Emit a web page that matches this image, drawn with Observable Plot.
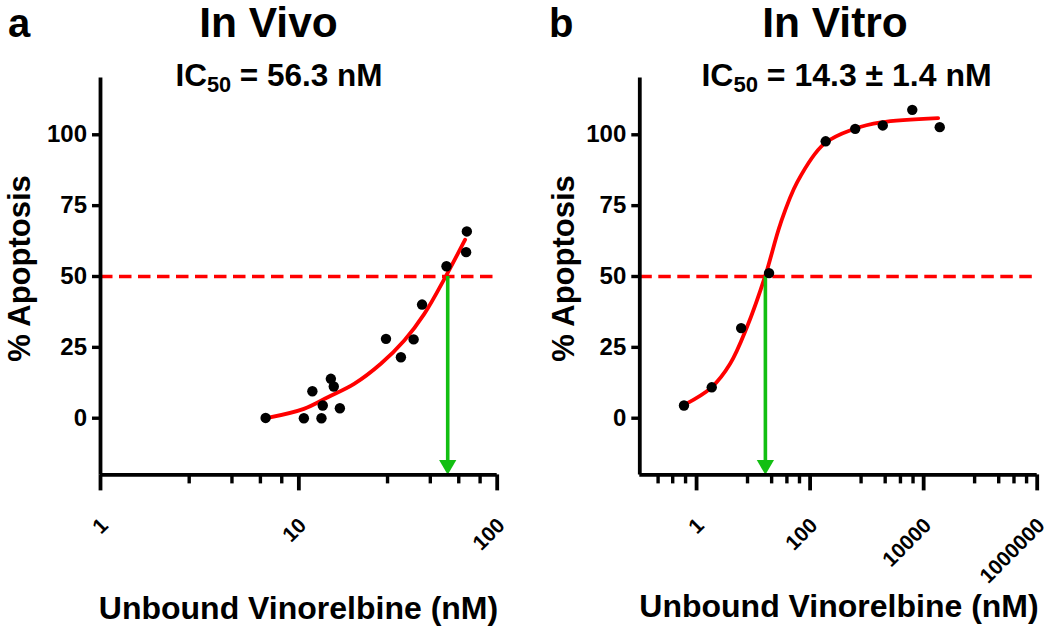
<!DOCTYPE html>
<html>
<head>
<meta charset="utf-8">
<script src="https://cdn.jsdelivr.net/npm/d3@7"></script>
<script src="https://cdn.jsdelivr.net/npm/@observablehq/plot@0.6"></script>
<style>
  html, body { margin: 0; padding: 0; background: #fff; }
  #fig { position: relative; width: 1050px; height: 631px; overflow: hidden; }
  .panel { position: absolute; top: 0; width: 525px; height: 631px; }
  .panel svg { max-width: none !important; width: 525px !important; height: 631px !important; }
  #overlay { position: absolute; left: 0; top: 0; pointer-events: none; }
</style>
</head>
<body>
<div id="fig">
  <div class="panel" id="pa" style="left:0px"></div>
  <div class="panel" id="pb" style="left:525px"></div>
</div>
<script>
// ---------- data ----------
// Panel a: In Vivo
const aDotsX = [6.8, 10.6, 11.7, 13.0, 13.2, 14.5, 15.0, 16.1, 27.5, 32.7, 37.9, 41.8, 55.5, 69.7, 70.3];
const aDotsY = [0.1, 0, 9.5, 0, 4.5, 13.9, 11.2, 3.5, 28.0, 21.5, 27.8, 40.1, 53.6, 58.6, 65.9];
const aCurveX = [6.95, 10.6, 14.0, 19.0, 25.9, 34.0, 42.9, 54.8, 68.9];
const aCurveY = [0.1, 3.3, 7.4, 12.1, 19.2, 27.4, 36.8, 49.8, 63.0];
const aIC50 = 56.3;
const aMajorTicks = [1, 10, 100];
const aMinorTicks = [2.8, 4.6, 6.4, 8.2, 28, 46, 64, 82];

// Panel b: In Vitro
const bDotsX = [0.6, 1.85, 6.1, 18.9, 188, 623, 1905, 6300, 19200];
const bDotsY = [4.5, 10.9, 31.8, 51.2, 97.7, 102.1, 103.3, 108.8, 102.7];
const bCurveX = [0.62, 1.84, 3.9, 7.7, 16.3, 30, 59.3, 176, 598, 1778, 18000];
const bCurveY = [4.8, 10.9, 19.2, 32.1, 50.4, 68.6, 83.3, 96.8, 102.1, 104.4, 105.9];
const bArrowX = 16.3;
const bMajorTicks = [1, 100, 10000, 1000000];
const bMinorTicks = [0.21, 0.38, 0.64, 7.9, 21, 39, 65, 790, 2100, 3900, 6500, 79000, 210000, 390000, 650000];

const yTicks = [0, 25, 50, 75, 100];
const yDomain = [-20, 120];
const threshold = 50;

// ---------- styling ----------
const FONT = "'Liberation Sans', Arial, Helvetica, sans-serif";
const RED = "#ff0000";
const GREEN = "#12bf12";
const AXW = 3.8;
const YTICKFONT = 24;
const XTICKFONT = 21;

function panel(o) {
  const dots = o.dotsX.map((x, i) => ({x, y: o.dotsY[i]}));
  const curve = o.curveX.map((x, i) => ({x, y: o.curveY[i]}));
  const x0 = o.xDomain[0], y0 = yDomain[0];
  return Plot.plot({
    width: 525,
    height: 631,
    marginLeft: o.marginLeft,
    marginRight: o.marginRight,
    marginTop: 77.6,
    marginBottom: 156.6,
    axis: null,
    style: {fontFamily: FONT, fontWeight: "bold", color: "#000", background: "transparent", overflow: "visible"},
    x: {type: "log", domain: o.xDomain},
    y: {domain: yDomain},
    marks: [
      Plot.ruleY([threshold], {stroke: RED, strokeWidth: 3.4, strokeDasharray: "12.5,6.5"}),
      Plot.line(curve, {x: "x", y: "y", stroke: RED, strokeWidth: 3.8, curve: "catmull-rom"}),
      Plot.ruleX([o.arrowX], {y1: threshold, y2: y0, stroke: GREEN, strokeWidth: 3.6, insetBottom: 12}),
      Plot.dot([o.arrowX], {x: d => d, y: () => y0, symbol: "triangle", rotate: 180, r: 6.4, fill: GREEN, stroke: null, dy: -10}),
      Plot.dot(dots, {x: "x", y: "y", r: 5.2, fill: "#000", stroke: null}),
      // y axis: ticks and labels
      Plot.ruleY(yTicks, {y: d => d, x1: x0, x2: x0, insetLeft: -8, stroke: "#000", strokeWidth: 3.4}),
      Plot.text(yTicks, {y: d => d, x: x0, text: d => String(d), textAnchor: "end", lineAnchor: "middle", dx: -13.5, fontSize: YTICKFONT, fontFamily: FONT, fontWeight: "bold", fill: "#000"}),
      // x axis: minor ticks, major ticks, rotated labels
      Plot.ruleX(o.minor, {x: d => d, y1: y0, y2: y0, insetTop: 9, stroke: "#000", strokeWidth: 3.4}),
      Plot.ruleX(o.major, {x: d => d, y1: y0, y2: y0, insetTop: 16, stroke: "#000", strokeWidth: 3.8}),
      Plot.text(o.major, {x: d => d, y: () => y0, text: d => String(d), rotate: -45, textAnchor: "end", lineAnchor: "middle", dx: 4, dy: 47, fontSize: XTICKFONT, fontFamily: FONT, fontWeight: "bold", fill: "#000"}),
      // axis lines
      Plot.ruleX([x0], {stroke: "#000", strokeWidth: AXW}),
      Plot.ruleY([y0], {stroke: "#000", strokeWidth: AXW})
    ]
  });
}

document.getElementById("pa").append(panel({
  dotsX: aDotsX, dotsY: aDotsY, curveX: aCurveX, curveY: aCurveY, arrowX: aIC50,
  xDomain: [1, 100], major: aMajorTicks, minor: aMinorTicks,
  marginLeft: 100, marginRight: 28.3
}));
document.getElementById("pb").append(panel({
  dotsX: bDotsX, dotsY: bDotsY, curveX: bCurveX, curveY: bCurveY, arrowX: bArrowX,
  xDomain: [0.1, 1000000], major: bMajorTicks, minor: bMinorTicks,
  marginLeft: 114.3, marginRight: 13.3
}));

// ---------- titles and axis labels ----------
const svg = d3.select("#fig").append("svg")
  .attr("id", "overlay").attr("width", 1050).attr("height", 631)
  .style("font-family", FONT).style("font-weight", "bold");

function label(x, y, text, size, anchor) {
  return svg.append("text").attr("x", x).attr("y", y).attr("font-size", size)
    .attr("text-anchor", anchor || "middle").attr("fill", "#000").text(text);
}
function ic50(x, y, size, rest) {
  const t = svg.append("text").attr("x", x).attr("y", y).attr("font-size", size)
    .attr("text-anchor", "middle").attr("fill", "#000");
  t.append("tspan").text("IC");
  t.append("tspan").attr("font-size", size * 0.69).attr("dy", 6).text("50");
  t.append("tspan").attr("dy", -6).text(rest);
}

label(8, 37, "a", 40, "start");
label(268.5, 37, "In Vivo", 42.5);
ic50(279, 86, 31.5, " = 56.3 nM");
label(549, 37, "b", 40, "start");
label(835, 37, "In Vitro", 42.5);
ic50(846.5, 86, 32, " = 14.3 \u00b1 1.4 nM");

svg.append("text").attr("transform", "translate(29.5,268.5) rotate(-90)")
  .attr("text-anchor", "middle").attr("font-size", 31).attr("fill", "#000").text("% Apoptosis");
svg.append("text").attr("transform", "translate(573.5,268.5) rotate(-90)")
  .attr("text-anchor", "middle").attr("font-size", 31).attr("fill", "#000").text("% Apoptosis");

label(298.5, 619, "Unbound Vinorelbine (nM)", 32);
label(839, 617, "Unbound Vinorelbine (nM)", 32);
</script>
</body>
</html>
